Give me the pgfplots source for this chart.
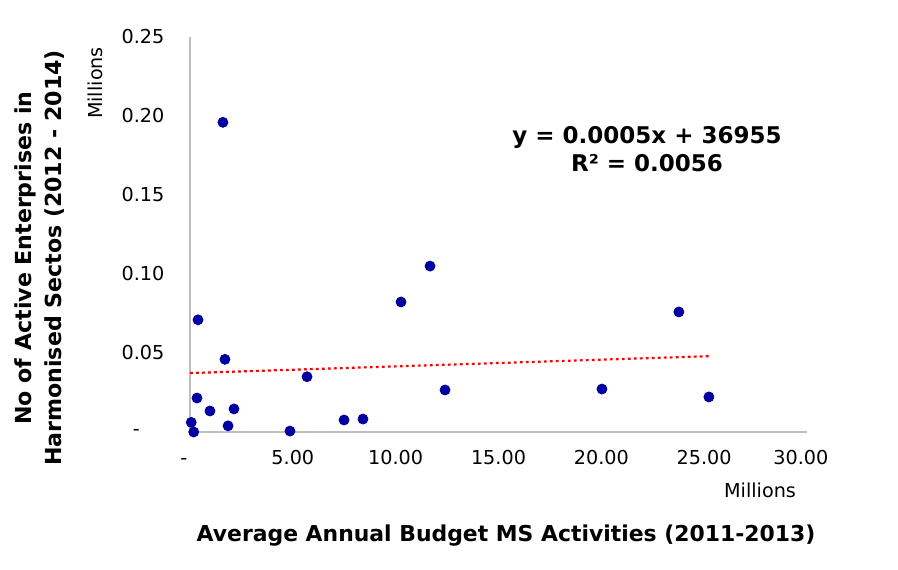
\documentclass[border=0pt]{standalone}
\usepackage{fontspec}
\setmainfont{DejaVu Sans}
\usepackage{pgfplots}
\pgfplotsset{compat=1.18}
\definecolor{dotblue}{RGB}{0,0,160}
\definecolor{axgray}{RGB}{191,191,191}
\definecolor{trendred}{RGB}{255,0,0}

\begin{document}
\begin{tikzpicture}
% 1px of the reference = 0.5pt
\useasboundingbox (0,0) rectangle (449pt,284.5pt);
\begin{axis}[
  at={(95pt,68.5pt)},anchor=south west,
  width=308.5pt,height=197.5pt,scale only axis,
  xmin=0,xmax=30,ymin=0,ymax=0.25,
  axis lines*=left,
  axis line style={draw=axgray,line width=0.6pt},
  major tick length=0pt,
  xtick={0,5,10,15,20,25,30},
  xticklabels={\vphantom{0}-\hphantom{0},5.00,10.00,15.00,20.00,25.00,30.00\hphantom{0}},
  ytick={0,0.05,0.1,0.15,0.2,0.25},
  yticklabels={-\hphantom{00},0.05,0.10,0.15,0.20,0.25},
  tick label style={font=\fontsize{9.6}{11}\selectfont},
  xticklabel style={yshift=-5.8pt},
  yticklabel style={xshift=-9.3pt},
  clip=false]
\addplot[only marks,mark=*,mark size=2.5pt,dotblue] coordinates {
(1.60,0.196) (0.39,0.071) (1.70,0.046) (5.69,0.035) (0.34,0.0215)
(0.97,0.0133) (2.14,0.0146) (0.06,0.0061) (0.18,0.0) (1.85,0.0039)
(4.86,0.0006) (7.49,0.0076) (8.41,0.0082) (10.26,0.0823) (11.67,0.105)
(12.40,0.0266) (20.03,0.0272) (23.77,0.076) (25.23,0.0222)};
\addplot[trendred,line width=1.1pt,dash pattern=on 1.4pt off 1.6pt] coordinates {
(0,0.0373) (25.23,0.048)};
\end{axis}
\node[font=\fontsize{10.95}{13}\selectfont\bfseries] at (253pt,16.5pt)
  {Average Annual Budget MS Activities (2011-2013)};
\node[rotate=90,align=center,font=\fontsize{11.05}{15}\selectfont\bfseries] at (20pt,155.5pt)
  {No of Active Enterprises in\\Harmonised Sectos (2012 - 2014)};
\node[rotate=90,font=\fontsize{9.6}{11}\selectfont] at (47.5pt,243pt) {Millions};
\node[font=\fontsize{9.6}{11}\selectfont] at (380pt,39.5pt) {Millions};
\node[align=center,font=\fontsize{11.5}{14}\selectfont\bfseries] at (323.5pt,210pt)
  {y = 0.0005x + 36955\\R² = 0.0056};
\end{tikzpicture}
\end{document}
